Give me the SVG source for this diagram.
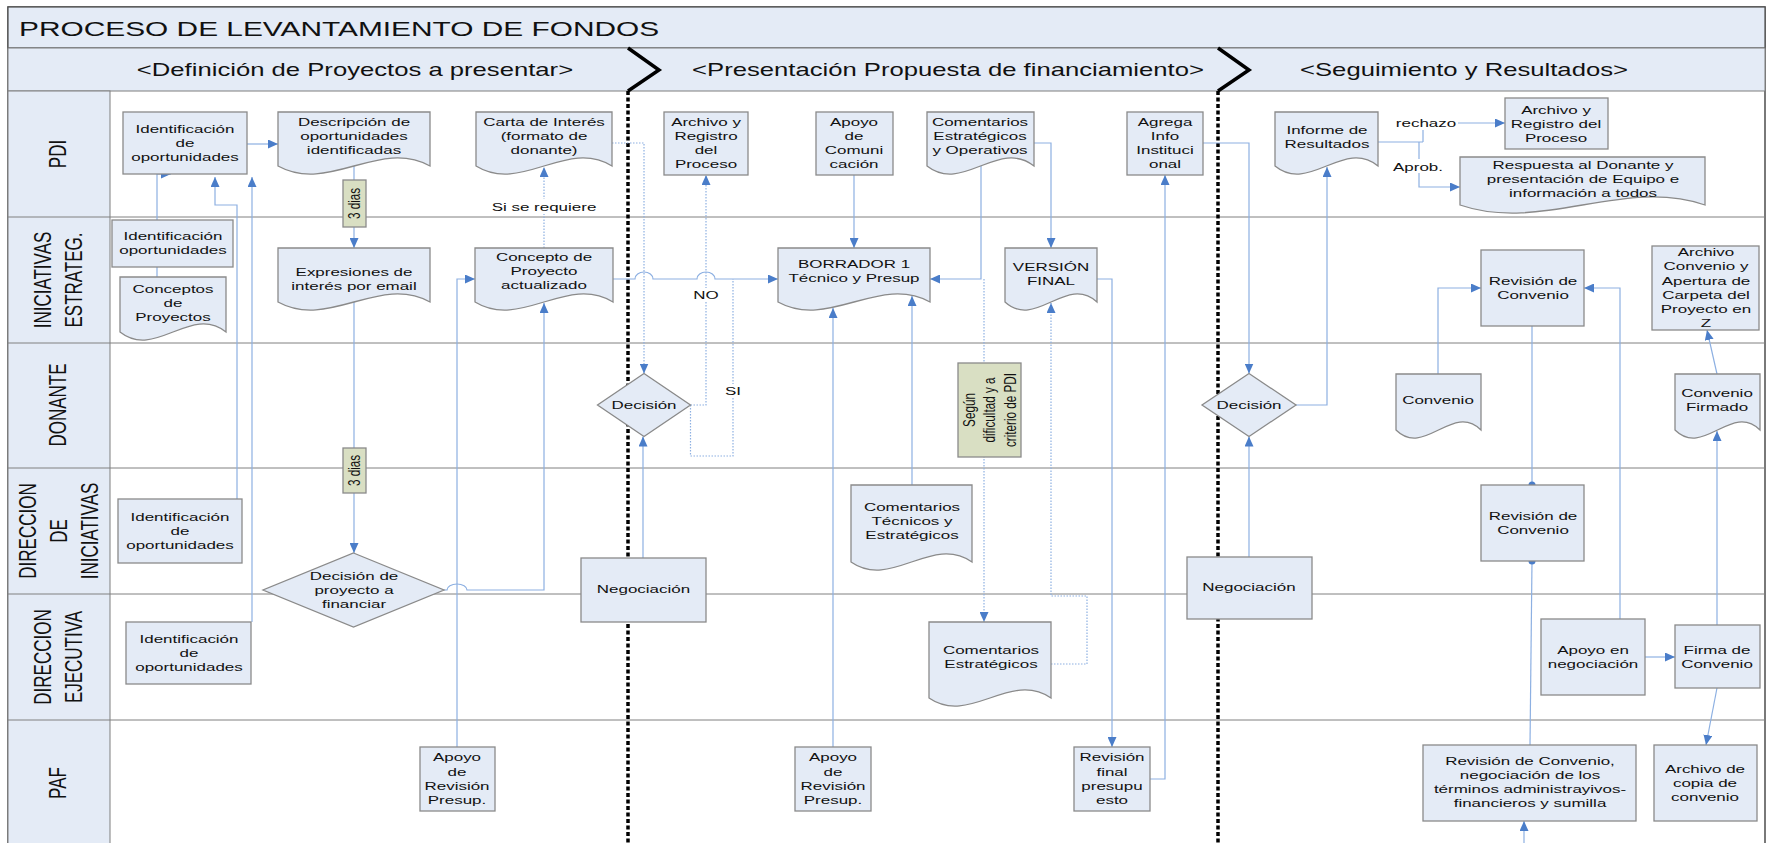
<svg xmlns="http://www.w3.org/2000/svg" width="1767" height="843" viewBox="0 0 1767 843">
<defs>
<style>
.box{fill:#E4EBF6;stroke:#8A8A8A;stroke-width:1.3}
.note{fill:#D9DFC3;stroke:#8A8A8A;stroke-width:1.3}
.c{fill:none;stroke:#8DB0E2;stroke-width:1.2}
.d{stroke-dasharray:1.5 1.5}
.ar{marker-end:url(#a)}
.t{font-family:"Liberation Sans",Arial,sans-serif;font-size:11.7px;fill:#111;text-anchor:middle}
.lane{font-family:"Liberation Sans",Arial,sans-serif;font-size:17px;fill:#111;text-anchor:middle}
.ph{font-family:"Liberation Sans",Arial,sans-serif;font-size:17.7px;fill:#111;text-anchor:middle}
.ln{stroke:#808080;stroke-width:1}
.dv{fill:none;stroke:#000;stroke-width:3.5;stroke-dasharray:4 2.5}
.ch{fill:none;stroke:#000;stroke-width:3.5}
.bg{fill:#fff}
.dot{fill:#4A7DC9}
</style>
<marker id="a" markerUnits="userSpaceOnUse" markerWidth="10" markerHeight="9" refX="10" refY="4.5" orient="auto"><path d="M0,0 L10,4.5 L0,9 z" fill="#4A7DC9"/></marker>
</defs>
<rect x="0" y="0" width="1767" height="843" fill="#fff"/>
<g id="frame">
<rect x="8" y="7" width="1757" height="850" fill="#fff" stroke="#4d4d4d" stroke-width="1.5"/>
<rect x="8" y="7" width="1757" height="41" fill="#E4EBF6" stroke="#4d4d4d" stroke-width="1.2"/>
<rect x="8" y="48" width="1757" height="43" fill="#E4EBF6" stroke="#7f7f7f"/>
<rect x="8" y="91" width="102" height="770" fill="#E4EBF6" stroke="#7f7f7f"/>
<line class="ln" x1="8" y1="217" x2="1765" y2="217"/>
<line class="ln" x1="8" y1="343" x2="1765" y2="343"/>
<line class="ln" x1="8" y1="468" x2="1765" y2="468" stroke="#a0a0a0" stroke-width="2"/>
<line class="ln" x1="8" y1="594" x2="1765" y2="594"/>
<line class="ln" x1="8" y1="720" x2="1765" y2="720"/>
<text class="ph" transform="matrix(1.45 0 0 1 19 36)" style="text-anchor:start;font-size:20.6px">PROCESO DE LEVANTAMIENTO DE FONDOS</text>
<text class="ph" transform="matrix(1.45 0 0 1 355 76)">&lt;Definición de Proyectos a presentar&gt;</text>
<text class="ph" transform="matrix(1.45 0 0 1 948 76)">&lt;Presentación Propuesta de financiamiento&gt;</text>
<text class="ph" transform="matrix(1.45 0 0 1 1464 76)">&lt;Seguimiento y Resultados&gt;</text>
<path class="ch" d="M628,48 L659,70 L628,91"/>
<path class="ch" d="M1218,48 L1249,70 L1218,91"/>
<line class="dv" x1="628" y1="91" x2="628" y2="843"/>
<line class="dv" x1="1218" y1="91" x2="1218" y2="843"/>
</g>
<g id="lanes">
<text class="lane" transform="matrix(1.45 0 0 1 57 154) rotate(-90)"><tspan x="0" y="6">PDI</tspan></text>
<text class="lane" transform="matrix(1.45 0 0 1 58 280) rotate(-90)"><tspan x="0" y="-4.7">INICIATIVAS</tspan><tspan x="0" dy="21.4">ESTRATEG.</tspan></text>
<text class="lane" transform="matrix(1.45 0 0 1 57 405) rotate(-90)"><tspan x="0" y="6">DONANTE</tspan></text>
<text class="lane" transform="matrix(1.45 0 0 1 58 531) rotate(-90)"><tspan x="0" y="-15.4">DIRECCION</tspan><tspan x="0" dy="21.4">DE</tspan><tspan x="0" dy="21.4">INICIATIVAS</tspan></text>
<text class="lane" transform="matrix(1.45 0 0 1 58 657) rotate(-90)"><tspan x="0" y="-4.7">DIRECCION</tspan><tspan x="0" dy="21.4">EJECUTIVA</tspan></text>
<text class="lane" transform="matrix(1.45 0 0 1 57 783) rotate(-90)"><tspan x="0" y="6">PAF</tspan></text>
</g>
<g id="connectors">
<path class="c ar" d="M246,144 H278"/>
<path class="c ar" d="M157,220 V174 H171"/>
<path class="c" d="M157,267 V277"/>
<path class="c ar" d="M237,499 V205 H215 V177"/>
<path class="c ar" d="M252,622 V177"/>
<path class="c ar" d="M354,166 V248"/>
<path class="c ar" d="M354,302 V553"/>
<path class="c ar" d="M444,590 H447 a10,6 0 0 1 20,0 H544 V303"/>
<path class="c ar" d="M457,747 V279 H475"/>
<path class="c d ar" d="M544,248 V167"/>
<path class="c d ar" d="M612,143 H644 V373.5"/>
<path class="c ar" d="M613,279 H635 a9,7 0 0 1 18,0 H697 a9,7 0 0 1 18,0 H778"/>
<path class="c d ar" d="M690.5,405 H706 V175"/>
<path class="c d" d="M690.5,405 V456 H733 V279"/>
<path class="c ar" d="M643,558 V436.5"/>
<path class="c ar" d="M854,175 V248"/>
<path class="c ar" d="M981,166 V279 H930"/>
<path class="c d ar" d="M984,279 V622"/>
<path class="c ar" d="M1034,143 H1051 V248"/>
<path class="c d ar" d="M1051,664 H1087 V596 H1051 V303"/>
<path class="c ar" d="M912,485 V296"/>
<path class="c ar" d="M833,747 V308"/>
<path class="c ar" d="M1097,279 H1112 V747"/>
<path class="c ar" d="M1150,779 H1165 V175"/>
<path class="c ar" d="M1203,143 H1249 V373.5"/>
<path class="c ar" d="M1249,557 V436.5"/>
<path class="c ar" d="M1296,405 H1327 V167"/>
<path class="c" d="M1378,142 H1423"/>
<path class="c ar" d="M1423,142 V123 H1505"/>
<path class="c ar" d="M1419,142 V187 H1460"/>
<path class="c ar" d="M1438,374 V288 H1481"/>
<path class="c ar" d="M1620,619 V288 H1584"/>
<path class="c" d="M1532,326 V485"/>
<circle class="dot" cx="1532" cy="485" r="3.5"/>
<path class="c" d="M1532,561 L1530,745"/>
<circle class="dot" cx="1532" cy="561" r="3.5"/>
<path class="c ar" d="M1717,625 V431"/>
<path class="c ar" d="M1717,374 L1707,330"/>
<path class="c ar" d="M1645,657 H1675"/>
<path class="c ar" d="M1717,688 L1706,745"/>
<path class="c ar" d="M1524,843 V821"/>
</g>
<g id="n1"><rect class="box" x="123" y="112" width="124" height="62"/><text class="t" transform="matrix(1.45 0 0 1 185 133)"><tspan x="0">Identificación</tspan><tspan x="0" dy="14.2">de</tspan><tspan x="0" dy="14.2">oportunidades</tspan></text></g>
<g id="n2"><path class="box" d="M278,112 H430 V166 C379.3,138 328.7,194 278,166 Z"/><text class="t" transform="matrix(1.45 0 0 1 354 125.5)"><tspan x="0">Descripción de</tspan><tspan x="0" dy="14.2">oportunidades</tspan><tspan x="0" dy="14.2">identificadas</tspan></text></g>
<g id="n3"><path class="box" d="M476,112 H612 V166 C566.7,138 521.3,194 476,166 Z"/><text class="t" transform="matrix(1.45 0 0 1 544 125.5)"><tspan x="0">Carta de Interés</tspan><tspan x="0" dy="14.2">(formato de</tspan><tspan x="0" dy="14.2">donante)</tspan></text></g>
<g id="n4"><rect class="box" x="664" y="112" width="84" height="63"/><text class="t" transform="matrix(1.45 0 0 1 706 125.9)"><tspan x="0">Archivo y</tspan><tspan x="0" dy="14.2">Registro</tspan><tspan x="0" dy="14.2">del</tspan><tspan x="0" dy="14.2">Proceso</tspan></text></g>
<g id="n5"><rect class="box" x="816" y="112" width="77" height="63"/><text class="t" transform="matrix(1.45 0 0 1 854 125.9)"><tspan x="0">Apoyo</tspan><tspan x="0" dy="14.2">de</tspan><tspan x="0" dy="14.2">Comuni</tspan><tspan x="0" dy="14.2">cación</tspan></text></g>
<g id="n6"><path class="box" d="M927,112 H1034 V166 C998.3,138 962.7,194 927,166 Z"/><text class="t" transform="matrix(1.45 0 0 1 980 126)"><tspan x="0">Comentarios</tspan><tspan x="0" dy="14.2">Estratégicos</tspan><tspan x="0" dy="14.2">y Operativos</tspan></text></g>
<g id="n7"><rect class="box" x="1127" y="112" width="76" height="63"/><text class="t" transform="matrix(1.45 0 0 1 1165 125.9)"><tspan x="0">Agrega</tspan><tspan x="0" dy="14.2">Info</tspan><tspan x="0" dy="14.2">Instituci</tspan><tspan x="0" dy="14.2">onal</tspan></text></g>
<g id="n8"><path class="box" d="M1275,112 H1378 V166 C1343.7,138 1309.3,194 1275,166 Z"/><text class="t" transform="matrix(1.45 0 0 1 1327 134.1)"><tspan x="0">Informe de</tspan><tspan x="0" dy="14.2">Resultados</tspan></text></g>
<g id="n9"><rect class="box" x="1505" y="98" width="103" height="51"/><text class="t" transform="matrix(1.45 0 0 1 1556 114)"><tspan x="0">Archivo y</tspan><tspan x="0" dy="14.2">Registro del</tspan><tspan x="0" dy="14.2">Proceso</tspan></text></g>
<g id="n10"><path class="box" d="M1460,157 H1705 V205 C1623.3,177 1541.7,233 1460,205 Z"/><text class="t" transform="matrix(1.45 0 0 1 1583 169)"><tspan x="0">Respuesta al Donante y</tspan><tspan x="0" dy="14.2">presentación de Equipo e</tspan><tspan x="0" dy="14.2">información a todos</tspan></text></g>
<g id="n11"><rect class="box" x="112" y="220" width="121" height="47"/><text class="t" transform="matrix(1.45 0 0 1 173 240.1)"><tspan x="0">Identificación</tspan><tspan x="0" dy="14.2">oportunidades</tspan></text></g>
<g id="n12"><path class="box" d="M120,277 H226 V332 C190.7,304 155.3,360 120,332 Z"/><text class="t" transform="matrix(1.45 0 0 1 173 293)"><tspan x="0">Conceptos</tspan><tspan x="0" dy="14.2">de</tspan><tspan x="0" dy="14.2">Proyectos</tspan></text></g>
<g id="n13"><path class="box" d="M278,248 H430 V302 C379.3,274 328.7,330 278,302 Z"/><text class="t" transform="matrix(1.45 0 0 1 354 276.1)"><tspan x="0">Expresiones de</tspan><tspan x="0" dy="14.2">interés por email</tspan></text></g>
<g id="n14"><path class="box" d="M475,248 H613 V302 C567,274 521,330 475,302 Z"/><text class="t" transform="matrix(1.45 0 0 1 544 261)"><tspan x="0">Concepto de</tspan><tspan x="0" dy="14.2">Proyecto</tspan><tspan x="0" dy="14.2">actualizado</tspan></text></g>
<g id="n15"><path class="box" d="M778,248 H930 V302 C879.3,274 828.7,330 778,302 Z"/><text class="t" transform="matrix(1.45 0 0 1 854 268.1)"><tspan x="0">BORRADOR 1</tspan><tspan x="0" dy="14.2">Técnico y Presup</tspan></text></g>
<g id="n16"><path class="box" d="M1005,248 H1097 V302 C1066.3,274 1035.7,330 1005,302 Z"/><text class="t" transform="matrix(1.45 0 0 1 1051 271.1)"><tspan x="0">VERSIÓN</tspan><tspan x="0" dy="14.2">FINAL</tspan></text></g>
<g id="n17"><rect class="box" x="1481" y="250" width="103" height="76"/><text class="t" transform="matrix(1.45 0 0 1 1533 285.1)"><tspan x="0">Revisión de</tspan><tspan x="0" dy="14.2">Convenio</tspan></text></g>
<g id="n18"><rect class="box" x="1652" y="246" width="107" height="84"/><text class="t" transform="matrix(1.45 0 0 1 1706 256.2)"><tspan x="0">Archivo</tspan><tspan x="0" dy="14.2">Convenio y</tspan><tspan x="0" dy="14.2">Apertura de</tspan><tspan x="0" dy="14.2">Carpeta del</tspan><tspan x="0" dy="14.2">Proyecto en</tspan><tspan x="0" dy="14.2">Z</tspan></text></g>
<g id="n19"><polygon class="box" points="644,373.5 690.5,405 644,436.5 597.5,405"/><text class="t" transform="matrix(1.45 0 0 1 644 409.1)">Decisión</text></g>
<g id="n20"><polygon class="box" points="1249,373.5 1296,405 1249,436.5 1202,405"/><text class="t" transform="matrix(1.45 0 0 1 1249 409.1)">Decisión</text></g>
<g id="n21"><path class="box" d="M1396,374 H1481 V430 C1452.7,402 1424.3,458 1396,430 Z"/><text class="t" transform="matrix(1.45 0 0 1 1438 404.1)">Convenio</text></g>
<g id="n22"><path class="box" d="M1675,374 H1760 V430 C1731.7,402 1703.3,458 1675,430 Z"/><text class="t" transform="matrix(1.45 0 0 1 1717 397)"><tspan x="0">Convenio</tspan><tspan x="0" dy="14.2">Firmado</tspan></text></g>
<g id="n23"><rect class="note" x="958" y="363" width="63" height="94"/><text class="t" transform="matrix(1.45 0 0 1 989.5 410) rotate(-90)"><tspan x="0" y="-10.1">Según</tspan><tspan x="0" dy="14.2">dificultad y a</tspan><tspan x="0" dy="14.2">criterio de PDI</tspan></text></g>
<g id="n24"><rect class="box" x="118" y="499" width="124" height="64"/><text class="t" transform="matrix(1.45 0 0 1 180 521)"><tspan x="0">Identificación</tspan><tspan x="0" dy="14.2">de</tspan><tspan x="0" dy="14.2">oportunidades</tspan></text></g>
<g id="n25"><polygon class="box" points="353.5,553 444,590 353.5,627 263,590"/><text class="t" transform="matrix(1.45 0 0 1 354 580)"><tspan x="0">Decisión de</tspan><tspan x="0" dy="14.2">proyecto a</tspan><tspan x="0" dy="14.2">financiar</tspan></text></g>
<g id="n26"><rect class="box" x="581" y="558" width="125" height="64"/><text class="t" transform="matrix(1.45 0 0 1 643.5 593.1)">Negociación</text></g>
<g id="n27"><path class="box" d="M851,485 H972 V562 C931.7,534 891.3,590 851,562 Z"/><text class="t" transform="matrix(1.45 0 0 1 912 511)"><tspan x="0">Comentarios</tspan><tspan x="0" dy="14.2">Técnicos y</tspan><tspan x="0" dy="14.2">Estratégicos</tspan></text></g>
<g id="n28"><rect class="box" x="1187" y="557" width="125" height="62"/><text class="t" transform="matrix(1.45 0 0 1 1249 591.1)">Negociación</text></g>
<g id="n29"><rect class="box" x="1481" y="485" width="103" height="76"/><text class="t" transform="matrix(1.45 0 0 1 1533 520.1)"><tspan x="0">Revisión de</tspan><tspan x="0" dy="14.2">Convenio</tspan></text></g>
<g id="n30"><rect class="box" x="126" y="622" width="125" height="62"/><text class="t" transform="matrix(1.45 0 0 1 189 643)"><tspan x="0">Identificación</tspan><tspan x="0" dy="14.2">de</tspan><tspan x="0" dy="14.2">oportunidades</tspan></text></g>
<g id="n31"><path class="box" d="M929,622 H1051 V698 C1010.3,670 969.7,726 929,698 Z"/><text class="t" transform="matrix(1.45 0 0 1 991 654.1)"><tspan x="0">Comentarios</tspan><tspan x="0" dy="14.2">Estratégicos</tspan></text></g>
<g id="n32"><rect class="box" x="1541" y="619" width="104" height="76"/><text class="t" transform="matrix(1.45 0 0 1 1593 654.1)"><tspan x="0">Apoyo en</tspan><tspan x="0" dy="14.2">negociación</tspan></text></g>
<g id="n33"><rect class="box" x="1675" y="625" width="85" height="63"/><text class="t" transform="matrix(1.45 0 0 1 1717 654.1)"><tspan x="0">Firma de</tspan><tspan x="0" dy="14.2">Convenio</tspan></text></g>
<g id="n34"><rect class="box" x="420" y="747" width="75" height="64"/><text class="t" transform="matrix(1.45 0 0 1 457 761.4)"><tspan x="0">Apoyo</tspan><tspan x="0" dy="14.2">de</tspan><tspan x="0" dy="14.2">Revisión</tspan><tspan x="0" dy="14.2">Presup.</tspan></text></g>
<g id="n35"><rect class="box" x="795" y="747" width="76" height="64"/><text class="t" transform="matrix(1.45 0 0 1 833 761.4)"><tspan x="0">Apoyo</tspan><tspan x="0" dy="14.2">de</tspan><tspan x="0" dy="14.2">Revisión</tspan><tspan x="0" dy="14.2">Presup.</tspan></text></g>
<g id="n36"><rect class="box" x="1074" y="747" width="76" height="64"/><text class="t" transform="matrix(1.45 0 0 1 1112 761.4)"><tspan x="0">Revisión</tspan><tspan x="0" dy="14.2">final</tspan><tspan x="0" dy="14.2">presupu</tspan><tspan x="0" dy="14.2">esto</tspan></text></g>
<g id="n37"><rect class="box" x="1423" y="745" width="213" height="76"/><text class="t" transform="matrix(1.45 0 0 1 1530 764.9)"><tspan x="0">Revisión de Convenio,</tspan><tspan x="0" dy="14.2">negociación de los</tspan><tspan x="0" dy="14.2">términos administrayivos-</tspan><tspan x="0" dy="14.2">financieros  y sumilla</tspan></text></g>
<g id="n38"><rect class="box" x="1654" y="745" width="103" height="76"/><text class="t" transform="matrix(1.45 0 0 1 1705 772.5)"><tspan x="0">Archivo de</tspan><tspan x="0" dy="14.2">copia de</tspan><tspan x="0" dy="14.2">convenio</tspan></text></g>
<g id="labels">
<rect class="note" x="343" y="180" width="23" height="47"/>
<text class="t" transform="matrix(1.45 0 0 1 354.5 203.5) rotate(-90)"><tspan x="0" y="4.1">3 dias</tspan></text>
<rect class="note" x="343" y="448" width="23" height="45"/>
<text class="t" transform="matrix(1.45 0 0 1 354.5 470.5) rotate(-90)"><tspan x="0" y="4.1">3 dias</tspan></text>
<rect class="bg" x="494" y="199" width="100" height="15"/>
<text class="t" transform="matrix(1.45 0 0 1 544 211)">Si se requiere</text>
<rect class="bg" x="694" y="288" width="24" height="14"/>
<text class="t" transform="matrix(1.45 0 0 1 706 299)">NO</text>
<rect class="bg" x="725" y="384" width="16" height="14"/>
<text class="t" transform="matrix(1.45 0 0 1 733 395)">SI</text>
<rect class="bg" x="1393" y="116" width="65" height="14"/>
<text class="t" transform="matrix(1.45 0 0 1 1426 127)">rechazo</text>
<rect class="bg" x="1393" y="159" width="50" height="14"/>
<text class="t" transform="matrix(1.45 0 0 1 1418 171)">Aprob.</text>
</g>
</svg>
